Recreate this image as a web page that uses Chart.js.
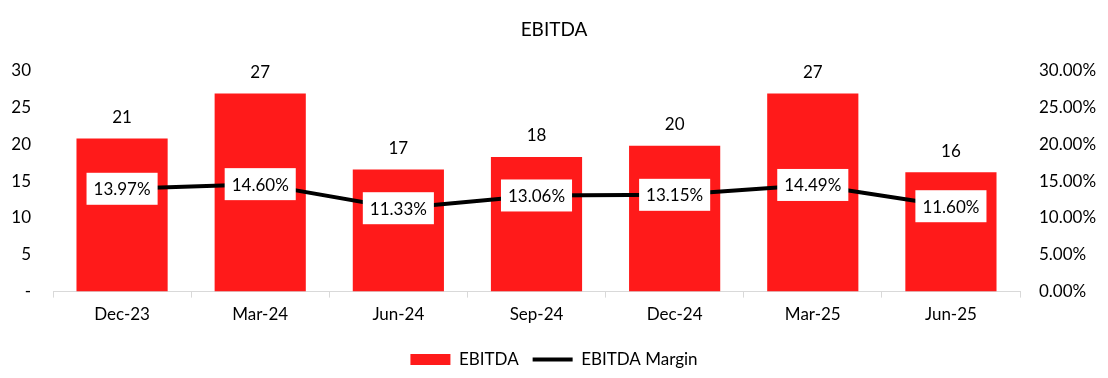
<!DOCTYPE html>
<html>
<head>
<meta charset="utf-8">
<script src="https://cdn.jsdelivr.net/npm/chart.js@4/dist/chart.umd.min.js"></script>
<style>
  html, body { margin: 0; padding: 0; background: #fff; }
  #wrap { width: 1108px; height: 378px; }
</style>
</head>
<body>
<div id="wrap"><canvas id="ebitdaChart"></canvas></div>
<script>
// values
var quarters = ['Dec-23', 'Mar-24', 'Jun-24', 'Sep-24', 'Dec-24', 'Mar-25', 'Jun-25'];
var ebitda = [20.8, 26.9, 16.6, 18.3, 19.8, 26.9, 16.2];
var ebitdaMargin = [13.97, 14.60, 11.33, 13.06, 13.15, 14.49, 11.60];
var leftTicks = [0, 5, 10, 15, 20, 25, 30];

var FONT = "Lato, 'Open Sans', sans-serif";

// draws the value labels: numbers above bars, white boxes on the line
var labelPlugin = {
    id: 'valueLabels',
    afterDatasetsDraw: function(chart) {
        var ctx = chart.ctx;
        ctx.save();
        ctx.font = '17px ' + FONT;
        ctx.textAlign = 'center';
        ctx.textBaseline = 'middle';

        var barMeta = chart.getDatasetMeta(0);
        barMeta.data.forEach(function(bar, i) {
            ctx.fillStyle = '#000';
            ctx.fillText(Math.round(ebitda[i]), bar.x, bar.y - 21);
        });

        var lineMeta = chart.getDatasetMeta(1);
        lineMeta.data.forEach(function(pt, i) {
            var txt = ebitdaMargin[i].toFixed(2) + '%';
            var w = ctx.measureText(txt).width + 14;
            var h = 32;
            ctx.fillStyle = '#fff';
            ctx.fillRect(pt.x - w / 2, pt.y - h / 2, w, h);
            ctx.fillStyle = '#000';
            ctx.fillText(txt, pt.x, pt.y + 1);
        });
        ctx.restore();
    }
};

var ctx = document.getElementById('ebitdaChart').getContext('2d');
var chart = new Chart(ctx, {
    type: 'bar',
    data: {
        labels: quarters,
        datasets: [{
            label: 'EBITDA',
            data: ebitda,
            backgroundColor: '#ff1a1a',
            borderWidth: 0,
            categoryPercentage: 1,
            barPercentage: 0.66,
            yAxisID: 'y',
            order: 1
        }, {
            type: 'line',
            label: 'EBITDA Margin',
            data: ebitdaMargin,
            borderColor: '#000',
            backgroundColor: '#000',
            borderWidth: 4,
            pointRadius: 0,
            tension: 0,
            yAxisID: 'y2',
            order: 0
        }]
    },
    options: {
        responsive: true,
        maintainAspectRatio: false,
        animation: false,
        layout: { padding: { left: 0, right: 0, top: 0, bottom: 0 } },
        scales: {
            x: {
                grid: {
                    display: true,
                    drawOnChartArea: false,
                    drawTicks: true,
                    tickLength: 6,
                    color: '#d9d9d9'
                },
                border: { color: '#d9d9d9', width: 1 },
                afterFit: function(scale) { scale.height = scale.height + 5; },
                ticks: { color: '#000', font: { family: FONT, size: 17 }, padding: 7 }
            },
            y: {
                position: 'left',
                min: 0,
                max: 30,
                afterBuildTicks: function(scale) {
                    scale.ticks = leftTicks.map(function(v) { return { value: v }; });
                },
                afterFit: function(scale) { scale.width = 53; },
                grid: { display: false },
                border: { display: false },
                ticks: {
                    color: '#000',
                    font: { family: FONT, size: 17 },
                    padding: 14,
                    callback: function(v) { return v === 0 ? '-' : v; }
                }
            },
            y2: {
                position: 'right',
                min: 0,
                max: 30,
                afterFit: function(scale) { scale.width = 88; },
                grid: { display: false },
                border: { display: false },
                ticks: {
                    stepSize: 5,
                    color: '#000',
                    font: { family: FONT, size: 17 },
                    padding: 11,
                    callback: function(v) { return v.toFixed(2) + '%'; }
                }
            }
        },
        plugins: {
            title: {
                display: true,
                text: 'EBITDA',
                color: '#000',
                font: { family: FONT, size: 19, weight: 'normal' },
                padding: { top: 18, bottom: 30 }
            },
            legend: {
                display: true,
                position: 'bottom',
                labels: {
                    color: '#000',
                    font: { family: FONT, size: 17 },
                    usePointStyle: true,
                    pointStyleWidth: 40,
                    boxWidth: 40,
                    boxHeight: 11,
                    padding: 14,
                    sort: function(a, b) { return a.datasetIndex - b.datasetIndex; },
                    generateLabels: function(chart) {
                        var items = Chart.defaults.plugins.legend.labels.generateLabels(chart);
                        items.forEach(function(it) {
                            it.pointStyle = it.datasetIndex === 0 ? 'rect' : 'line';
                        });
                        return items;
                    }
                }
            },
            tooltip: { enabled: false }
        }
    },
    plugins: [labelPlugin]
});
</script>
</body>
</html>
